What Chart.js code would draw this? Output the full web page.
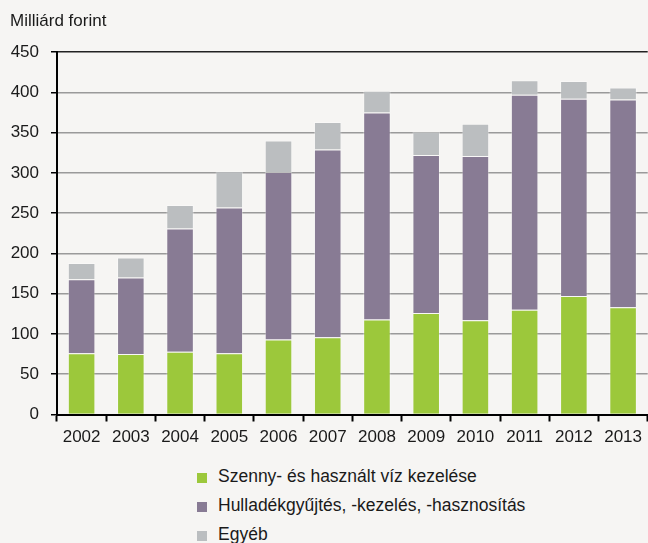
<!DOCTYPE html>
<html>
<head>
<meta charset="utf-8">
<script src="https://cdn.jsdelivr.net/npm/chart.js@4.4.1/dist/chart.umd.min.js"></script>
<style>
  body { margin: 0; background: #f6f5f3; font-family: "Liberation Sans", Arial, sans-serif; }
  #wrap { position: relative; width: 648px; height: 543px; overflow: hidden; }
  #box { position: absolute; left: 0; top: 0; width: 648px; height: 450px; }
  #legend { position: absolute; left: 197px; top: 462px; margin: 0; padding: 0; list-style: none; }
  #legend li { height: 29px; line-height: 29px; font-size: 17.5px; color: #1a1a1a; white-space: nowrap; }
  #legend span { display: inline-block; width: 10px; height: 10px; margin-right: 11px; vertical-align: -1px; }
</style>
</head>
<body>
<div id="wrap">
  <div id="box"><canvas id="mainChart"></canvas></div>
  <ul id="legend"></ul>
</div>
<script>
var years = ['2002', '2003', '2004', '2005', '2006', '2007', '2008', '2009', '2010', '2011', '2012', '2013'];
var seriesNames = ['Szenny- és használt víz kezelése', 'Hulladékgyűjtés, -kezelés, -hasznosítás', 'Egyéb'];
var wasteWater = [76, 75, 78, 76, 93, 96, 118, 126, 117, 130, 147, 133];
var wasteMgmt = [92, 95, 153, 181, 208, 233, 257, 196, 204, 267, 245, 258];
var other = [20, 25, 29, 45, 39, 34, 27, 29, 40, 18, 22, 15];
var colors = ['#9cc83b', '#887b94', '#bbbec0'];
var yTitle = 'Milliárd forint';

var ctx = document.getElementById('mainChart').getContext('2d');
var values = [wasteWater, wasteMgmt, other];
var datasets = [];
for (var i = 0; i < values.length; i++) {
    datasets.push({
        label: seriesNames[i],
        data: values[i],
        backgroundColor: colors[i],
        borderColor: 'rgba(255,255,255,0.35)',
        borderWidth: 1,
        borderSkipped: 'bottom',
        barPercentage: 0.56,
        categoryPercentage: 1
    });
}

var chart = new Chart(ctx, {
    type: 'bar',
    data: { labels: years, datasets: datasets },
    options: {
        responsive: true,
        maintainAspectRatio: false,
        animation: false,
        layout: { padding: { left: 10, right: 0, top: 0, bottom: 0 } },
        plugins: {
            legend: { display: false },
            tooltip: { enabled: false },
            title: {
                display: true,
                text: yTitle,
                align: 'start',
                color: '#1a1a1a',
                font: { family: '"Liberation Sans", Arial, sans-serif', size: 17, weight: 'normal' },
                padding: { top: 11, bottom: 20.6 }
            }
        },
        scales: {
            x: {
                stacked: true,
                afterFit: function (scale) { scale.height = 35.5; },
                border: { display: true, color: '#000', width: 2 },
                grid: { drawOnChartArea: false, drawTicks: true, tickLength: 7, tickColor: '#000', tickWidth: 2, offset: true },
                ticks: {
                    color: '#1a1a1a',
                    padding: 6,
                    maxRotation: 0,
                    font: { family: '"Liberation Sans", Arial, sans-serif', size: 17 }
                }
            },
            y: {
                stacked: true,
                min: 0,
                max: 450,
                afterFit: function (scale) { scale.width = 47; },
                border: { display: true, color: '#000', width: 2 },
                grid: {
                    color: function (c) { return c.tick && c.tick.value === 450 ? '#222' : '#9a9a9a'; },
                    lineWidth: 1.5,
                    tickLength: 6,
                    tickColor: '#000',
                    tickWidth: 1.5
                },
                ticks: {
                    stepSize: 50,
                    color: '#1a1a1a',
                    padding: 12,
                    font: { family: '"Liberation Sans", Arial, sans-serif', size: 17 }
                }
            }
        }
    }
});

var legend = document.getElementById('legend');
for (var j = 0; j < seriesNames.length; j++) {
    var li = document.createElement('li');
    var sw = document.createElement('span');
    sw.style.background = colors[j];
    li.appendChild(sw);
    li.appendChild(document.createTextNode(seriesNames[j]));
    legend.appendChild(li);
}
</script>
</body>
</html>
